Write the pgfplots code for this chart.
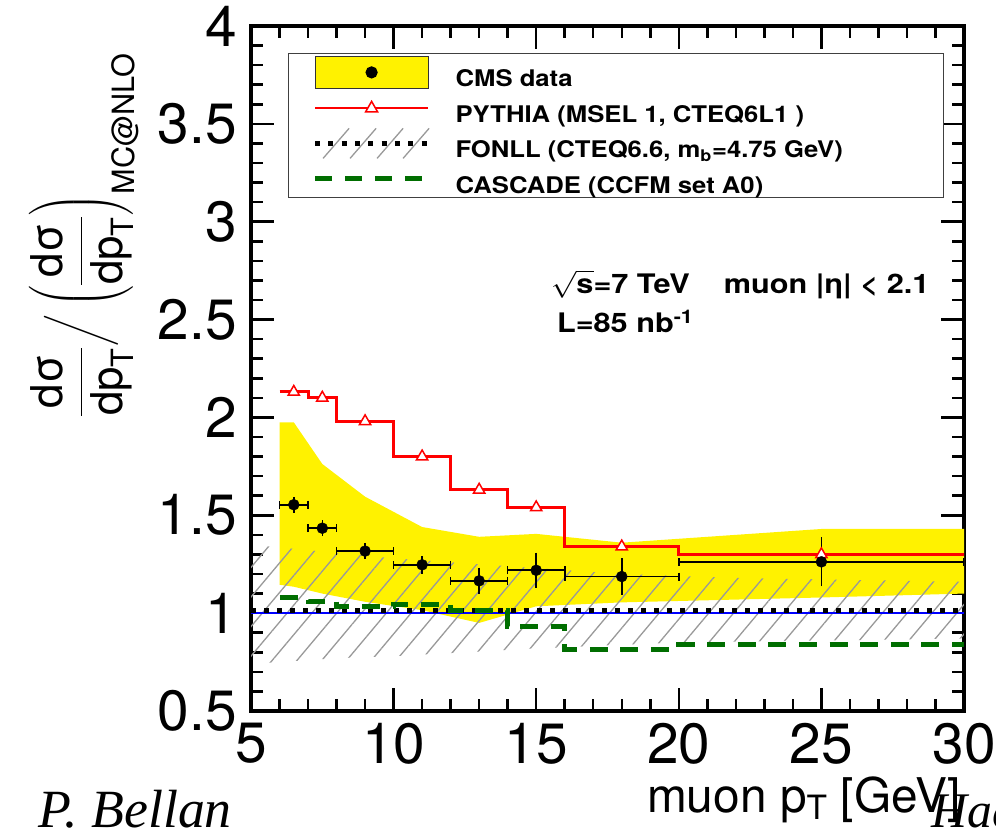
\RequirePackage{fix-cm}
\documentclass[border=0pt]{standalone}
\usepackage{amsmath}
\usepackage{graphicx}
\usepackage{fontspec}
\setmainfont{TeX Gyre Heros}
\newfontfamily\handfont{Liberation Serif}
\usepackage{pgfplots}
\pgfplotsset{compat=1.18}
\usetikzlibrary{patterns.meta}

\definecolor{cascgreen}{RGB}{0,110,0}
\newcommand\legtext[1]{\makebox[462bp][l]{\rule[-15bp]{0pt}{45bp}\scalebox{1.12}[1]{#1}}}

\begin{document}
\begin{tikzpicture}
\useasboundingbox (0,0) rectangle (996bp,837bp);
\begin{axis}[
  at={(251bp,126bp)}, anchor=south west,
  scale only axis, width=713bp, height=685bp,
  xmin=5, xmax=30, ymin=0.5, ymax=4,
  xtick={5,10,15,20,25,30},
  ytick={0.5,1,1.5,2,2.5,3,3.5,4},
  minor x tick num=4, minor y tick num=4,
  tick align=inside,
  major tick length=23bp, minor tick length=12bp,
  every tick/.style={black, line width=2.5bp},
  axis line style={line width=3.5bp},
  /pgf/number format/assume math mode=true,
  tick label style={font=\fontsize{57}{57}\selectfont, inner sep=0pt},
  xticklabel style={yshift=-12bp},
  yticklabel style={xshift=-14bp},
  legend style={
    at={(0.0519,0.9605)}, anchor=north west,
    draw=black!75, line width=1.2bp, fill=white,
    inner xsep=24bp, inner ysep=1bp,
    row sep=0pt, column sep=23bp,
    font=\fontsize{23}{23}\selectfont\bfseries,
  },
  legend cell align=left,
]

% CMS systematic band
\addplot[fill=yellow, draw=none, forget plot] coordinates {
  (6,1.975) (6.5,1.975) (7.5,1.762) (9,1.595) (11,1.44) (13,1.39)
  (15,1.405) (18,1.36) (25,1.43) (30,1.43)
  (30,1.10) (25,1.08) (18,1.055) (15,1.035) (13,0.95) (11,1.015)
  (9,1.058) (7.5,1.10) (6.5,1.135) (6,1.145)
} -- cycle;

% FONLL uncertainty band
\addplot[pattern={Lines[angle=50, distance=19bp, line width=1.3bp]},
  pattern color=black!40, draw=none, forget plot] coordinates {
  (5,1.35) (10,1.28) (15,1.23) (18,1.20) (22,1.18) (30,1.16)
  (30,0.87) (20,0.85) (15,0.82) (10,0.78) (8,0.77) (5,0.74)
} -- cycle;

% MC@NLO reference
\addplot[blue, line width=1.6bp, forget plot] coordinates {(5,1) (30,1)};

% FONLL central value
\addplot[black, line width=5bp, dash pattern=on 5bp off 8bp, forget plot]
  coordinates {(5,1.015) (30,1.015)};

% PYTHIA
\addplot[red, line width=3bp, const plot, forget plot] coordinates {
  (6,2.13) (7,2.10) (8,1.98) (10,1.80) (12,1.63) (14,1.54) (16,1.34) (20,1.30) (30,1.30)
};
\addplot[only marks, mark=triangle*, mark size=6.5bp,
  mark options={draw=red, fill=white, line width=1.5bp}, forget plot] coordinates {
  (6.5,2.13) (7.5,2.10) (9,1.98) (11,1.80) (13,1.63) (15,1.54) (18,1.34) (25,1.30)
};

% CASCADE
\addplot[cascgreen, line width=5bp, dash pattern=on 18bp off 12.6bp, const plot, forget plot]
  coordinates {
  (6,1.08) (7,1.062) (8,1.032) (10,1.045) (12,1.012) (14,0.93) (16,0.815) (20,0.84) (30,0.84)
};

% CMS data: bin widths
\addplot[black, only marks, mark=none, forget plot,
  error bars/.cd, x dir=both, x explicit,
  error bar style={line width=1.6bp, black},
  error mark=|, error mark options={line width=1.6bp, mark size=4bp, black}]
  coordinates {
  (6.5,1.554) +- (0.5,0)
  (7.5,1.434) +- (0.5,0)
  (9,1.317) +- (1,0)
  (11,1.247) +- (1,0)
  (13,1.165) +- (1,0)
  (15,1.219) +- (1,0)
  (18,1.187) +- (2,0)
  (25,1.262) +- (5,0)
};
% CMS data: points with statistical errors
\addplot[black, only marks, mark=*, mark size=5.5bp, forget plot,
  error bars/.cd, y dir=both, y explicit,
  error bar style={line width=1.6bp, black},
  error mark=-, error mark options={line width=1.6bp, mark size=4bp, black}]
  coordinates {
  (6.5,1.554) +- (0,0.02)
  (7.5,1.434) +- (0,0.02)
  (9,1.317) +- (0,0.02)
  (11,1.247) +- (0,0.025)
  (13,1.165) +- (0,0.047)
  (15,1.219) +- (0,0.07)
  (18,1.187) +- (0,0.072)
  (25,1.262) +- (0,0.105)
};

% legend
\addlegendimage{legend image code/.code={
  \fill[yellow, draw=black!80, line width=1bp] (0bp,-16bp) rectangle (113bp,16bp);
  \fill[black] (56.5bp,0bp) circle (5.5bp);}}
\addlegendentry{\legtext{CMS data}}
\addlegendimage{legend image code/.code={
  \draw[red, line width=2.5bp] (0bp,0bp) -- (113bp,0bp);
  \draw[red, fill=white, line width=1.5bp] (50.5bp,-4bp) -- (62.5bp,-4bp) -- (56.5bp,6.5bp) -- cycle;}}
\addlegendentry{\legtext{PYTHIA (MSEL 1, CTEQ6L1 )}}
\addlegendimage{legend image code/.code={
  \path[draw=none, fill=none] (0bp,-16bp) rectangle (113bp,16bp);
  \foreach \c in {21,48,75,101} {
    \draw[black!40, line width=1.3bp] (\c bp-13bp,-15bp) -- (\c bp+13bp,15bp);}
  \draw[black, line width=5bp, dash pattern=on 5bp off 8.3bp] (0bp,0bp) -- (113bp,0bp);}}
\addlegendentry{\legtext{FONLL (CTEQ6.6, m$_{\text{b}}$=4.75 GeV)}}
\addlegendimage{legend image code/.code={
  \draw[cascgreen, line width=5bp, dash pattern=on 17bp off 13bp] (0bp,0bp) -- (111bp,0bp);}}
\addlegendentry{\legtext{CASCADE (CCFM set A0)}}

\node[anchor=base west, xscale=1.14, font=\fontsize{27}{27}\selectfont\bfseries]
  at (axis description cs:0.415,0.610) {$\sqrt{\text{s}}$=7 TeV\hspace{30bp}muon |η| < 2.1};
\node[anchor=base west, xscale=1.14, font=\fontsize{27}{27}\selectfont\bfseries]
  at (axis description cs:0.4236,0.552) {L=85 nb$^{\text{-1}}$};
\end{axis}

% axis titles
\node[anchor=base east, font=\fontsize{48}{48}\selectfont] at (964bp,25bp)
  {muon p$_{\text{T}}$ [GeV]};
\node[rotate=90, font=\fontsize{44}{44}\selectfont] at (84bp,602bp)
  {$\dfrac{\text{dσ}}{\text{dp}_{\text{T}}}\Big/\left(\dfrac{\text{dσ}}{\text{dp}_{\text{T}}}\right)_{\text{MC@NLO}}$};

% slide footer
\node[anchor=base west, font=\fontsize{54}{54}\selectfont\handfont\itshape] at (35bp,10bp) {P. Bellan};
\node[anchor=base west, font=\fontsize{50}{50}\selectfont\handfont\itshape] at (928bp,10bp) {Had};
\end{tikzpicture}
\end{document}
